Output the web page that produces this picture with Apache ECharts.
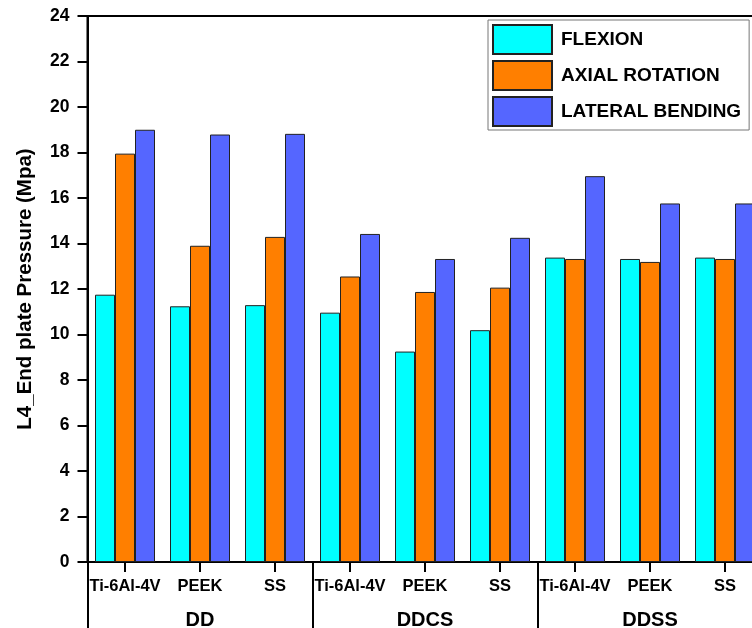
<!DOCTYPE html>
<html>
<head>
<meta charset="utf-8">
<script src="https://cdn.jsdelivr.net/npm/echarts@6/dist/echarts.min.js"></script>
<style>
html,body{margin:0;padding:0;background:#fff;}
#c{width:752px;height:628px;}
</style>
</head>
<body>
<div id="c"></div>
<script>
const categories = ['Ti-6Al-4V','PEEK','SS','Ti-6Al-4V','PEEK','SS','Ti-6Al-4V','PEEK','SS'];
const groups = ['DD','DDCS','DDSS'];
const flexion = [11.75, 11.24, 11.29, 10.96, 9.25, 10.19, 13.38, 13.32, 13.38];
const axialRotation = [17.95, 13.90, 14.29, 12.55, 11.87, 12.06, 13.32, 13.19, 13.32];
const lateralBending = [19.00, 18.79, 18.82, 14.42, 13.32, 14.25, 16.96, 15.76, 15.76];
const seriesNames = ['FLEXION','AXIAL ROTATION','LATERAL BENDING'];
const yTicks = {min: 0, max: 24, interval: 2};

const FONT = '"Liberation Sans", Arial, sans-serif';
const chart = echarts.init(document.getElementById('c'), null, {renderer: 'canvas'});
const colors = ['#00FFFF', '#FF7F00', '#5566FF'];
const data = [flexion, axialRotation, lateralBending];

chart.setOption({
  backgroundColor: '#ffffff',
  animation: false,
  grid: {
    left: 87.5, top: 16, width: 675, height: 546,
    outerBoundsMode: 'none',
    containLabel: false,
    show: true, borderColor: '#000', borderWidth: 2, backgroundColor: 'transparent'
  },
  legend: {
    orient: 'vertical',
    left: 488, top: 20,
    padding: [4, 8, 3, 4],
    itemWidth: 59, itemHeight: 29, itemGap: 5,
    borderColor: '#777', borderWidth: 1,
    icon: 'rect',
    textStyle: {fontFamily: FONT, fontWeight: 'bold', fontSize: 19, color: '#000', padding: [0, 0, 0, 4]},
    data: seriesNames
  },
  xAxis: [
    {
      type: 'category',
      data: categories,
      position: 'bottom',
      axisLine: {show: true, lineStyle: {color: '#000', width: 2}},
      axisTick: {show: true, alignWithLabel: true, length: 10, inside: false, lineStyle: {color: '#000', width: 2}},
      axisLabel: {interval: 0, margin: 16, fontFamily: FONT, fontWeight: 'bold', fontSize: 16.5, color: '#000'},
      splitLine: {show: false}
    },
    {
      type: 'category',
      data: groups,
      position: 'bottom',
      axisLine: {show: false},
      axisTick: {show: true, length: 66, inside: false, lineStyle: {color: '#000', width: 2}},
      axisLabel: {interval: 0, margin: 48, fontFamily: FONT, fontWeight: 'bold', fontSize: 20, color: '#000'},
      splitLine: {show: false}
    }
  ],
  yAxis: {
    type: 'value',
    min: yTicks.min, max: yTicks.max, interval: yTicks.interval,
    name: 'L4_End plate Pressure (Mpa)',
    nameLocation: 'middle',
    nameGap: 52,
    nameTextStyle: {fontFamily: FONT, fontWeight: 'bold', fontSize: 20.5, color: '#000'},
    axisLine: {show: true, lineStyle: {color: '#000', width: 2}},
    axisTick: {show: true, length: 10, inside: false, lineStyle: {color: '#000', width: 2}},
    axisLabel: {margin: 18, fontFamily: FONT, fontWeight: 'bold', fontSize: 17.5, color: '#000'},
    splitLine: {show: false}
  },
  series: seriesNames.map((n, i) => ({
    name: n,
    type: 'bar',
    xAxisIndex: 0,
    data: data[i],
    barWidth: 20,
    barGap: '0%',
    itemStyle: {color: colors[i], borderColor: '#222', borderWidth: 1}
  }))
});
</script>
</body>
</html>
